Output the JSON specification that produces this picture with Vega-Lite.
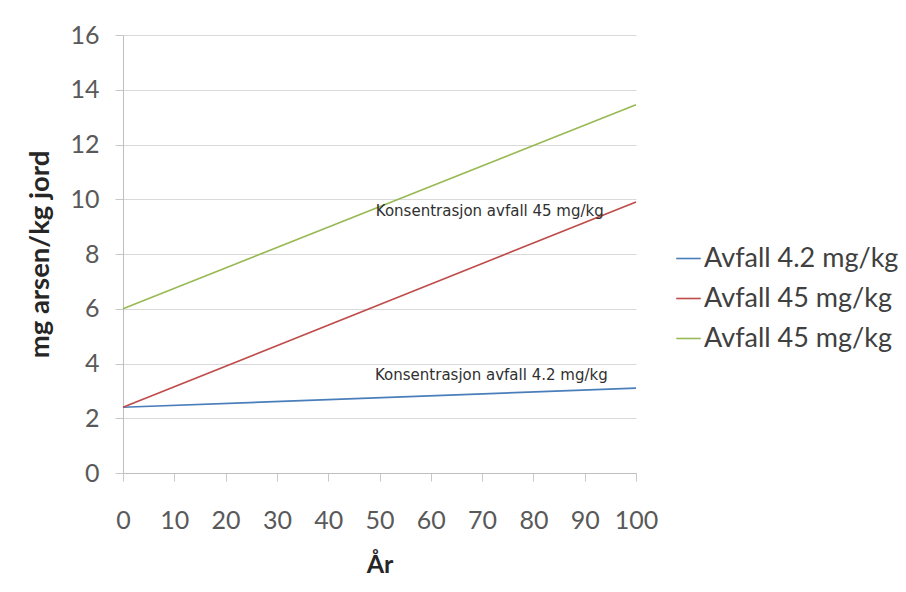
{
  "$schema": "https://vega.github.io/schema/vega-lite/v6.json",
  "width": 513,
  "height": 438,
  "autosize": {"type": "none"},
  "padding": {"left": 123, "top": 35, "right": 270, "bottom": 119},
  "background": "white",
  "config": {
    "view": {"stroke": null},
    "axis": {"labelFont": "Lato", "titleFont": "Lato"},
    "legend": {"labelFont": "Lato"}
  },
  "layer": [
    {
      "data": {
        "values": [
          {"year": 0, "value": 2.4, "series": "Avfall 4.2 mg/kg"},
          {"year": 100, "value": 3.1, "series": "Avfall 4.2 mg/kg"},
          {"year": 0, "value": 2.4, "series": "Avfall 45 mg/kg "},
          {"year": 100, "value": 9.9, "series": "Avfall 45 mg/kg "},
          {"year": 0, "value": 6.0, "series": "Avfall 45 mg/kg"},
          {"year": 100, "value": 13.45, "series": "Avfall 45 mg/kg"}
        ]
      },
      "mark": {"type": "line", "strokeWidth": 1.6},
      "encoding": {
        "x": {
          "field": "year", "type": "quantitative",
          "scale": {"domain": [0, 100], "nice": false},
          "axis": {
            "values": [0, 10, 20, 30, 40, 50, 60, 70, 80, 90, 100],
            "grid": false,
            "title": "År",
            "titleFontSize": 25,
            "titleFontWeight": "bold",
            "titleColor": "#262626",
            "titlePadding": 19,
            "labelFontSize": 25,
            "labelColor": "#595959",
            "labelPadding": 27,
            "labelFlush": false,
            "labelOverlap": false,
            "tickSize": 8,
            "tickColor": "#c8c8c8",
            "domainColor": "#bfbfbf"
          }
        },
        "y": {
          "field": "value", "type": "quantitative",
          "scale": {"domain": [0, 16], "nice": false},
          "axis": {
            "values": [0, 2, 4, 6, 8, 10, 12, 14, 16],
            "grid": true,
            "gridColor": "#d9d9d9",
            "title": "mg arsen/kg jord",
            "titleFontSize": 27.5,
            "titleFontWeight": "bold",
            "titleColor": "#262626",
            "titlePadding": 15,
            "labelFontSize": 25,
            "labelColor": "#595959",
            "labelPadding": 16,
            "labelFlush": false,
            "labelOverlap": false,
            "tickSize": 8,
            "tickColor": "#c8c8c8",
            "domainColor": "#bfbfbf"
          }
        },
        "color": {
          "field": "series", "type": "nominal",
          "scale": {
            "domain": ["Avfall 4.2 mg/kg", "Avfall 45 mg/kg ", "Avfall 45 mg/kg"],
            "range": ["#4a7ebb", "#be4b48", "#98b954"]
          },
          "legend": {
            "title": null,
            "orient": "none",
            "legendX": 552,
            "legendY": 210,
            "symbolType": "stroke",
            "symbolSize": 600,
            "symbolStrokeWidth": 1.6,
            "labelFontSize": 27,
            "labelColor": "#404040",
            "labelOffset": 2,
            "rowPadding": 12,
            "labelLimit": 300
          }
        }
      }
    },
    {
      "data": {
        "values": [
          {"year": 71.5, "value": 9.57, "label": "Konsentrasjon avfall 45 mg/kg"},
          {"year": 71.8, "value": 3.58, "label": "Konsentrasjon avfall 4.2 mg/kg"}
        ]
      },
      "mark": {"type": "text", "font": "DejaVu Sans", "fontSize": 15, "color": "#303030", "baseline": "middle", "align": "center"},
      "encoding": {
        "x": {"field": "year", "type": "quantitative"},
        "y": {"field": "value", "type": "quantitative"},
        "text": {"field": "label"}
      }
    }
  ]
}
